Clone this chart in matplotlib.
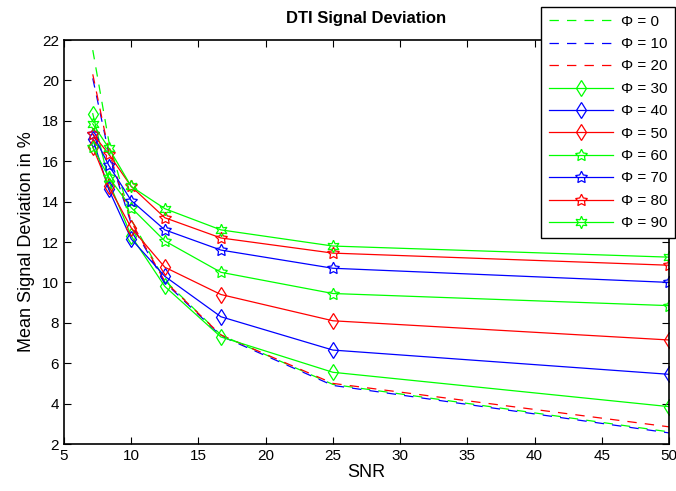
import matplotlib
matplotlib.use('Agg')
import matplotlib.pyplot as plt
import numpy as np

plt.rcParams['font.family'] = ['Liberation Sans', 'DejaVu Sans']

snr = [7.14, 8.33, 10, 12.5, 16.67, 25, 50]
phi = [0, 10, 20, 30, 40, 50, 60, 70, 80, 90]

dev_0 = [21.5, 17.0, 13.1, 10.1, 7.4, 4.95, 2.6]
dev_10 = [20.1, 16.4, 12.9, 10.0, 7.35, 4.9, 2.55]
dev_20 = [20.3, 16.5, 13.0, 10.05, 7.4, 5.0, 2.85]
dev_30 = [18.35, 15.0, 12.3, 9.8, 7.3, 5.55, 3.85]
dev_40 = [17.1, 14.6, 12.15, 10.3, 8.3, 6.65, 5.45]
dev_50 = [16.7, 14.75, 12.7, 10.75, 9.4, 8.1, 7.15]
dev_60 = [16.7, 15.2, 13.7, 12.05, 10.5, 9.45, 8.85]
dev_70 = [17.35, 15.8, 14.05, 12.6, 11.6, 10.7, 10.0]
dev_80 = [17.35, 16.35, 14.75, 13.2, 12.2, 11.45, 10.85]
dev_90 = [17.85, 16.65, 14.75, 13.65, 12.6, 11.8, 11.25]

series = [dev_0, dev_10, dev_20, dev_30, dev_40, dev_50, dev_60, dev_70, dev_80, dev_90]
colors = ['#00ff00', '#0000ff', '#ff0000'] * 4
styles = ['--'] * 3 + ['-'] * 7
# unfilled diamonds, pentagrams and a hexagram like MATLAB's 'd', 'p', 'h'
markers = [None, None, None, 'd', 'd', 'd', (5, 1, 0), (5, 1, 0), (5, 1, 0), (6, 1, 0)]
msizes = [0, 0, 0, 8.5, 8.5, 8.5, 9, 9, 9, 9]

fig = plt.figure(figsize=(6.76, 4.91), dpi=100)
ax = fig.add_axes([64 / 676, 1 - 444 / 491, 605 / 676, 404 / 491])

for p, y, c, ls, m, ms in zip(phi, series, colors, styles, markers, msizes):
    ax.plot(snr, y, color=c, linestyle=ls, linewidth=0.9, marker=m,
            markersize=ms, markerfacecolor='none', markeredgecolor=c,
            markeredgewidth=0.9, label='Φ = %d' % p,
            dashes=(7.5, 6.5) if ls == '--' else (None, None))

ax.set_xlim(5, 50)
ax.set_ylim(2, 22)
ax.set_xticks(np.arange(5, 51, 5))
ax.set_yticks(np.arange(2, 23, 2))
ax.tick_params(direction='in', top=True, right=True, labelsize=11, length=5, width=0.8)
for s in ax.spines.values():
    s.set_linewidth(1.2)
ax.set_xlabel('SNR', fontsize=13, labelpad=1)
ax.set_ylabel('Mean Signal Deviation in %', fontsize=13, labelpad=5)
ax.set_title('DTI Signal Deviation', fontsize=12, fontweight='bold', pad=12)

leg = ax.legend(loc='upper right', bbox_to_anchor=(675 / 676, 1 - 7 / 491),
                bbox_transform=fig.transFigure, fontsize=11, frameon=True,
                fancybox=False, edgecolor='black', framealpha=1,
                handlelength=4.2, handletextpad=0.5, borderpad=0.5,
                labelspacing=0.55, borderaxespad=0)
leg.get_frame().set_linewidth(1.0)

fig.savefig('out.png', dpi=100)
